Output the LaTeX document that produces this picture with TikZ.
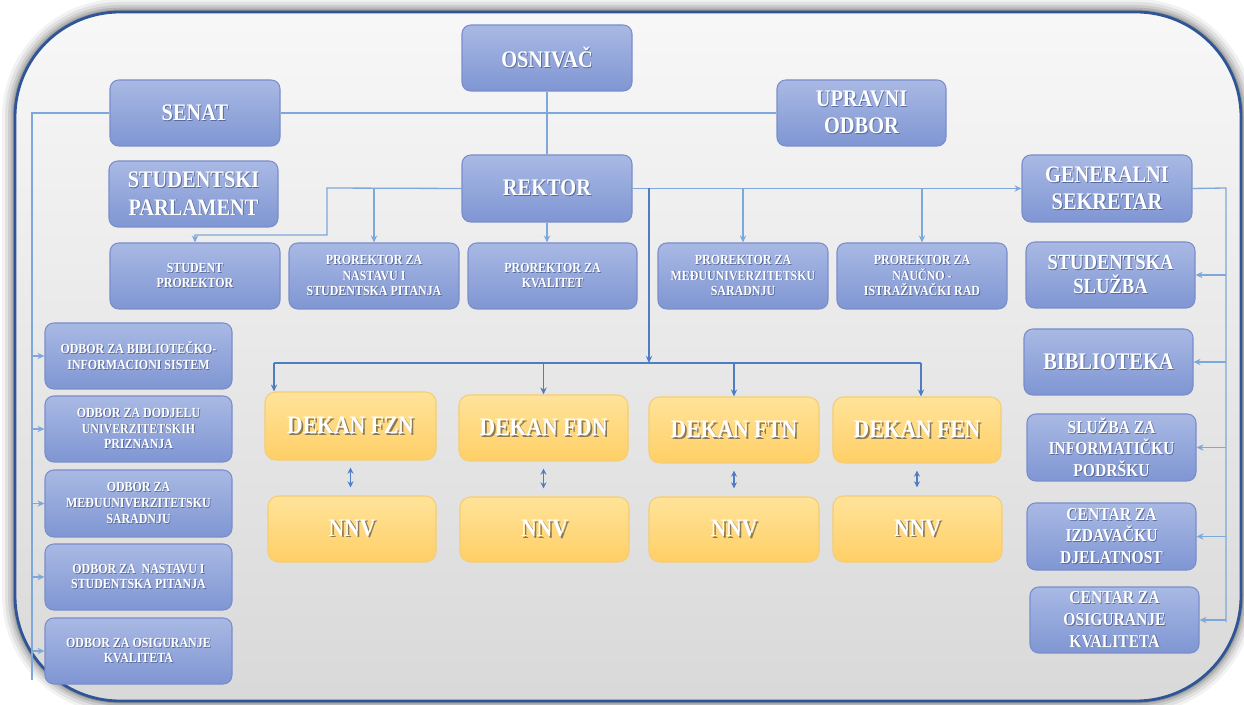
\documentclass[tikz,border=0pt]{standalone}
\usepackage{fontspec}
\setmainfont{Liberation Serif}[FakeStretch=0.86]
\usetikzlibrary{arrows.meta}
\pgfdeclarelayer{bg}
\pgfsetlayers{bg,main}
\definecolor{blueTop}{HTML}{A9B9E4}
\definecolor{blueBot}{HTML}{7F96D3}
\definecolor{blueDraw}{HTML}{7A8DCA}
\definecolor{yelTop}{HTML}{FFE39A}
\definecolor{yelBot}{HTML}{FFCF66}
\definecolor{yelDraw}{HTML}{F5CD72}
\definecolor{lineA}{HTML}{7EA7DA}
\definecolor{lineB}{HTML}{4E7DC4}
\definecolor{frameC}{HTML}{2F5597}
\definecolor{shB}{HTML}{5A6A9A}
\definecolor{shY}{HTML}{8A7A55}
\newcommand{\wsh}[1]{\leavevmode\rlap{\kern0.5pt\raisebox{-0.5pt}{\color{shB}#1}}#1}
\newcommand{\ysh}[1]{\leavevmode\rlap{\kern1pt\raisebox{-1pt}{\color{shY}#1}}#1}
\newcommand{\bbox}[7]{\node[#6, minimum width={(#4-#2)*0.02cm}, minimum height={(#5-#3)*0.02cm}] (#1) at ({(#2+#4)/2},{(#3+#5)/2}) {#7};}
\tikzset{
  bluebox/.style={rounded corners=5pt, draw=blueDraw, line width=0.6pt, top color=blueTop, bottom color=blueBot, text=white, align=center, inner sep=0pt},
  big/.style={bluebox, font=\bfseries\fontsize{13.5}{15.5}\selectfont},
  medb/.style={bluebox, font=\bfseries\fontsize{12.3}{14}\selectfont},
  mid/.style={bluebox, font=\bfseries\fontsize{10.3}{12.3}\selectfont},
  small/.style={bluebox, font=\bfseries\fontsize{7.9}{9}\selectfont},
  yelbox/.style={rounded corners=6pt, draw=yelDraw, line width=0.6pt, top color=yelTop, bottom color=yelBot, text=white, align=center, inner sep=0pt, font=\bfseries\fontsize{14.3}{16}\selectfont},
  conn/.style={draw=lineA, line width=0.75pt},
  arr/.style={conn, -{Stealth[length=4pt,width=3.6pt]}},
  conn2/.style={draw=lineB, line width=0.75pt},
  arr2/.style={conn2, -{Stealth[length=4pt,width=3.6pt]}},
  darr/.style={conn2, {Stealth[length=3.5pt,width=3.4pt]}-{Stealth[length=3.5pt,width=3.4pt]}}
}
\begin{document}
\begin{tikzpicture}[x=0.02cm, y=-0.02cm]
\useasboundingbox (0,0) rectangle (1244,705);
\begin{pgfonlayer}{bg}
  % frame shadow
  \foreach \w/\o in {26/0.05, 20/0.07, 14/0.09, 9/0.11, 5/0.14}{
    \draw[black, opacity=\o, line width=\w*0.02cm, rounded corners=2.1cm] (15,12) rectangle (1241,701);
  }
  \path[rounded corners=2.1cm, top color=white!97!black, bottom color=black!15] (15,12) rectangle (1241,701);
  \draw[frameC, line width=1.6pt, rounded corners=2.1cm] (15,12) rectangle (1241,701);
\end{pgfonlayer}

% top level
\bbox{osn}{462}{25}{632}{91}{big}{\wsh{OSNIVAČ}}
\bbox{sen}{110}{80}{280}{146}{big}{\wsh{SENAT}}
\bbox{upr}{777}{80}{946}{146}{big}{\wsh{UPRAVNI}\\\wsh{ODBOR}}
\bbox{spa}{109}{161}{278}{227}{big}{\wsh{STUDENTSKI}\\\wsh{PARLAMENT}}
\bbox{rek}{462}{155}{632}{222}{big}{\wsh{REKTOR}}
\bbox{gs}{1022}{155}{1192}{222}{big}{\wsh{GENERALNI}\\\wsh{SEKRETAR}}
% prorektori
\bbox{sp}{110}{243}{280}{309}{small}{\wsh{STUDENT}\\\wsh{PROREKTOR}}
\bbox{pn}{289}{243}{459}{309}{small}{\wsh{PROREKTOR ZA}\\\wsh{NASTAVU I}\\\wsh{STUDENTSKA PITANJA}}
\bbox{pk}{468}{243}{637}{309}{small}{\wsh{PROREKTOR ZA}\\\wsh{KVALITET}}
\bbox{pm}{658}{243}{828}{309}{small}{\wsh{PROREKTOR ZA}\\\wsh{MEĐUUNIVERZITETSKU}\\\wsh{SARADNJU}}
\bbox{pi}{837}{243}{1007}{309}{small}{\wsh{PROREKTOR ZA}\\\wsh{NAUČNO -}\\\wsh{ISTRAŽIVAČKI RAD}}
% right column
\bbox{ss}{1026}{242}{1195}{308}{medb}{\wsh{STUDENTSKA}\\\wsh{SLUŽBA}}
\bbox{bib}{1024}{329}{1193}{395}{big}{\wsh{BIBLIOTEKA}}
\bbox{sin}{1027}{414}{1196}{481}{mid}{\wsh{SLUŽBA ZA}\\\wsh{INFORMATIČKU}\\\wsh{PODRŠKU}}
\bbox{ciz}{1027}{503}{1196}{570}{mid}{\wsh{CENTAR ZA}\\\wsh{IZDAVAČKU}\\\wsh{DJELATNOST}}
\bbox{cok}{1030}{587}{1199}{653}{mid}{\wsh{CENTAR ZA}\\\wsh{OSIGURANJE}\\\wsh{KVALITETA}}
% left column
\bbox{o1}{45}{323}{232}{389}{small}{\wsh{ODBOR ZA BIBLIOTEČKO-}\\\wsh{INFORMACIONI SISTEM}}
\bbox{o2}{45}{396}{232}{462}{small}{\wsh{ODBOR ZA DODJELU}\\\wsh{UNIVERZITETSKIH}\\\wsh{PRIZNANJA}}
\bbox{o3}{45}{470}{232}{537}{small}{\wsh{ODBOR ZA}\\\wsh{MEĐUUNIVERZITETSKU}\\\wsh{SARADNJU}}
\bbox{o4}{45}{544}{232}{610}{small}{\wsh{ODBOR ZA\ \ NASTAVU I}\\\wsh{STUDENTSKA PITANJA}}
\bbox{o5}{45}{618}{232}{684}{small}{\wsh{ODBOR ZA OSIGURANJE}\\\wsh{KVALITETA}}
% dekani
\bbox{d1}{265}{392}{436}{460}{yelbox}{\ysh{DEKAN FZN}}
\bbox{d2}{459}{395}{628}{461}{yelbox}{\ysh{DEKAN FDN}}
\bbox{d3}{649}{397}{819}{463}{yelbox}{\ysh{DEKAN FTN}}
\bbox{d4}{833}{397}{1001}{463}{yelbox}{\ysh{DEKAN FEN}}
\bbox{n1}{268}{496}{436}{562}{yelbox}{\ysh{NNV}}
\bbox{n2}{460}{497}{629}{562}{yelbox}{\ysh{NNV}}
\bbox{n3}{649}{497}{819}{562}{yelbox}{\ysh{NNV}}
\bbox{n4}{833}{496}{1002}{562}{yelbox}{\ysh{NNV}}

\coordinate (lb) at (32,113);
\coordinate (lbe) at (32,680);
\coordinate (rl1) at (327,188);
\coordinate (rl2) at (327,235);
\coordinate (dv) at (649,188);
\coordinate (db) at (649,363);
\coordinate (dbl) at (274,363);
\coordinate (dbr) at (921,363);
\coordinate (rb) at (1226,188);
\coordinate (rbe) at (1226,622);

\begin{pgfonlayer}{bg}
  \draw[conn] (osn.south) -- (rek.north);
  \draw[conn] (sen.east) -- (upr.west);
  \draw[conn] (sen.west) -- (lb) -- (lbe);
  \foreach \n in {o1,o2,o3,o4,o5}{
    \draw[arr] (lb |- \n.west) -- (\n.west);
  }
  \draw[arr] (rek.west) -- (rl1) -- (rl2) -| (sp.north);
  \draw[arr] (pn.north |- rek.west) -- (pn.north);
  \draw[arr] (rek.south) -- (rek.south |- pk.north);
  \draw[arr] (rek.east) -- (gs.west);
  \draw[arr] (pm.north |- rek.east) -- (pm.north);
  \draw[arr] (pi.north |- rek.east) -- (pi.north);
  \draw[arr2] (dv) -- (db);
  \draw[conn2] (dbl) -- (dbr);
  \draw[arr2] (dbl) -- (dbl |- d1.north);
  \draw[arr2] (d2.north |- db) -- (d2.north);
  \draw[arr2] (d3.north |- db) -- (d3.north);
  \draw[arr2] (dbr) -- (dbr |- d4.north);
  \foreach \a/\b in {d1/n1,d2/n2,d3/n3,d4/n4}{
    \draw[darr, shorten <=7*0.02cm, shorten >=8*0.02cm] (\a.south) -- (\a.south |- \b.north);
  }
  \draw[conn] (gs.east) -- (rb) -- (rbe);
  \foreach \n in {ss,bib,sin,ciz,cok}{
    \draw[arr] (rb |- \n.east) -- (\n.east);
  }
\end{pgfonlayer}
\end{tikzpicture}
\end{document}
